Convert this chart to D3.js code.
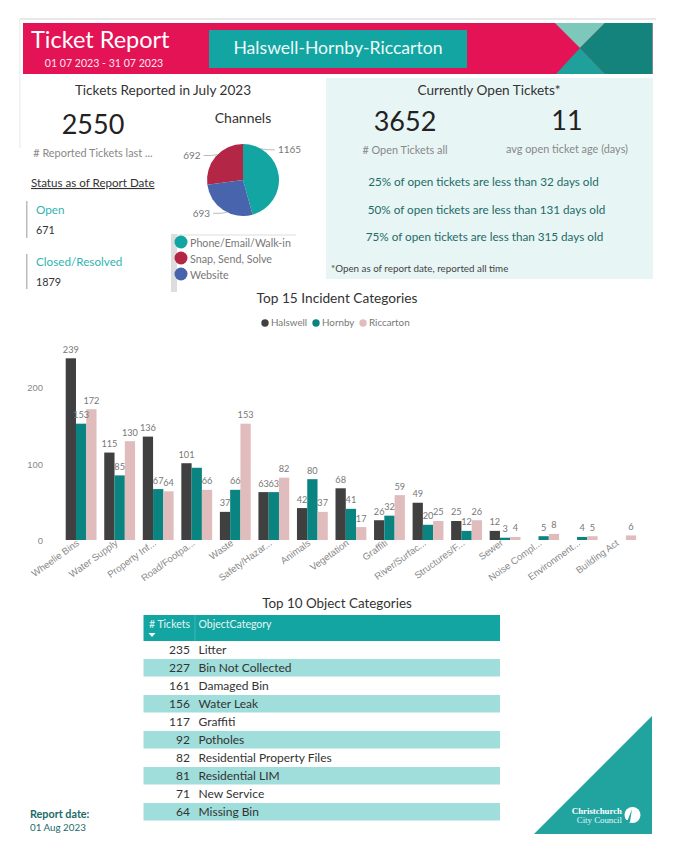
<!DOCTYPE html>
<html>
<head>
<meta charset="utf-8">
<title>Ticket Report</title>
<script src="https://cdn.jsdelivr.net/npm/d3@7"></script>
<style>
	html, body { margin: 0; padding: 0; background: #fff; }
	svg { display: block; font-family: Lato, "Noto Sans", sans-serif; }
</style>
</head>
<body>
<svg id="report" width="675" height="862"></svg>
<script>

var categories = [ "Wheelie Bins", "Water Supply", "Property Inf...", "Road/Footpa...", "Waste", "Safety/Hazar...", "Animals", "Vegetation", "Graffiti", "River/Surfac...", "Structures/F...", "Sewer", "Noise Compl...", "Environment...", "Building Act" ];
var halswell = [ 239, 115, 136, 101, 37, 63, 42, 68, 26, 49, 25, 12, null, null, null ];
var hornby = [ 153, 85, 67, 95, 66, 63, 80, 41, 32, 20, 12, 3, 5, 4, null ];
var riccarton = [ 172, 130, 64, 66, 153, 82, 37, 17, 59, 25, 26, 4, 8, 5, 6 ];
var seriesNames = [ "Halswell", "Hornby", "Riccarton" ];
var seriesColours = [ "#404041", "#0a8480", "#e0bcbd" ];
var valueTicks = [ 0, 100, 200 ];

// the report drops this one label, it collides with its neighbours
var unlabelled = [ "Road/Footpa...|Hornby" ];

var channels = [ "Phone/Email/Walk-in", "Snap, Send, Solve", "Website" ];
var channelValues = [ 1165, 692, 693 ];
var channelColours = [ "#12a5a2", "#b32645", "#4864ad" ];

var objectCategories = [ "Litter", "Bin Not Collected", "Damaged Bin", "Water Leak", "Graffiti", "Potholes", "Residential Property Files", "Residential LIM", "New Service", "Missing Bin" ];
var objectTickets = [ 235, 227, 161, 156, 117, 92, 82, 81, 71, 64 ];

var ageLines = [ "25% of open tickets are less than 32 days old", "50% of open tickets are less than 131 days old", "75% of open tickets are less than 315 days old" ];

var svg = d3.select( "#report" );

function label( parent, x, y, text, size, colour, anchor ) {

	return parent.append( "text" )
		.attr( "x", x )
		.attr( "y", y + 1 )
		.attr( "font-size", size )
		.attr( "fill", colour )
		.attr( "text-anchor", anchor || "middle" )
		.attr( "dominant-baseline", "middle" )
		.text( text );

}

function polygon( points, colour ) {

	svg.append( "polygon" ).attr( "points", points ).attr( "fill", colour );

}

function drawHeader() {

	svg.append( "rect" ).attr( "x", 19 ).attr( "y", 18 ).attr( "width", 637 ).attr( "height", 2 ).attr( "fill", "#e8e8e8" );
	svg.append( "rect" ).attr( "x", 19 ).attr( "y", 18 ).attr( "width", 1.5 ).attr( "height", 130 ).attr( "fill", "#f0f0f0" );

	svg.append( "rect" ).attr( "x", 23 ).attr( "y", 23 ).attr( "width", 629.5 ).attr( "height", 51 ).attr( "fill", "#e31356" );

	polygon( "555,23 605,23 580,48", "#7cc9bb" );
	polygon( "605,23 652.5,23 652.5,74 605,74 580,48", "#14837b" );
	polygon( "556,74 605,74 580,48", "#1fa09b" );

	svg.append( "rect" ).attr( "x", 209 ).attr( "y", 30 ).attr( "width", 258 ).attr( "height", 38 ).attr( "fill", "#12a5a2" );

	label( svg, 31, 41, "Ticket Report", 23.5, "#fff", "start" );
	label( svg, 104, 63, "01 07 2023 - 31 07 2023", 10.6, "#fde6ee" );
	label( svg, 338, 49, "Halswell-Hornby-Riccarton", 17.6, "#eefafa" );

}

function drawReported() {

	label( svg, 163, 91, "Tickets Reported in July 2023", 13.6, "#333" );
	label( svg, 93, 126, "2550", 27, "#222" );
	label( svg, 93, 153, "# Reported Tickets last ...", 10.9, "#888" );

	label( svg, 31, 183, "Status as of Report Date", 11.6, "#333", "start" ).attr( "text-decoration", "underline" );

	svg.append( "rect" ).attr( "x", 26 ).attr( "y", 201 ).attr( "width", 1.5 ).attr( "height", 37 ).attr( "fill", "#bbb" );
	svg.append( "rect" ).attr( "x", 26 ).attr( "y", 254 ).attr( "width", 1.5 ).attr( "height", 35 ).attr( "fill", "#bbb" );

	label( svg, 36, 210, "Open", 11.7, "#2fb5b0", "start" );
	label( svg, 36, 230, "671", 10.8, "#333", "start" );
	label( svg, 36, 262, "Closed/Resolved", 11.7, "#2fb5b0", "start" );
	label( svg, 36, 282, "1879", 10.8, "#333", "start" );

}

function drawChannels() {

	label( svg, 243, 118, "Channels", 14, "#333" );

	var radius = 36;
	var pie = d3.pie()( channelValues );
	var arc = d3.arc().innerRadius( 0 ).outerRadius( radius );

	// where each leader line leaves the pie, in radians clockwise from the top
	var leaderAngles = [ 0.52, 5.5, 3.6 ];

	var g = svg.append( "g" ).attr( "transform", "translate(243,180)" );

	g.selectAll( "path" )
		.data( pie )
	.enter()
		.append( "path" )
		.attr( "d", arc )
		.attr( "fill", function( d, i ) { return channelColours[ i ]; } );

	g.selectAll( "polyline" )
		.data( pie )
	.enter()
		.append( "polyline" )
		.attr( "fill", "none" )
		.attr( "stroke", "#bbb" )
		.attr( "points", function( d, i ) {

			var x = Math.sin( leaderAngles[ i ] ) * radius;
			var y = -Math.cos( leaderAngles[ i ] ) * radius;
			var side = x > 0 ? 1 : -1;

			return [ [ x, y ], [ x + side * 6, y + 1 ], [ x + side * 14, y + 1 ] ].join( " " );

		} );

	g.selectAll( "text" )
		.data( pie )
	.enter()
		.append( "text" )
		.attr( "font-size", 10 )
		.attr( "fill", "#777" )
		.attr( "dominant-baseline", "middle" )
		.attr( "text-anchor", function( d, i ) { return i == 0 ? "start" : "end"; } )
		.attr( "x", function( d, i ) {

			var x = Math.sin( leaderAngles[ i ] ) * radius;

			return x + ( x > 0 ? 17 : -17 );

		} )
		.attr( "y", function( d, i ) {

			return -Math.cos( leaderAngles[ i ] ) * radius + 2;

		} )
		.text( function( d ) { return d.value; } );

	svg.append( "rect" ).attr( "x", 171 ).attr( "y", 234 ).attr( "width", 125 ).attr( "height", 2 ).attr( "fill", "#eee" );
	svg.append( "rect" ).attr( "x", 171 ).attr( "y", 234 ).attr( "width", 6 ).attr( "height", 58 ).attr( "fill", "#ddd" );

	var legendY = d3.scalePoint().domain( channels ).range( [ 243, 275 ] );

	channels.forEach( function( name, i ) {

		svg.append( "circle" ).attr( "cx", 181 ).attr( "cy", legendY( name ) - 1 ).attr( "r", 6.5 ).attr( "fill", channelColours[ i ] );
		label( svg, 190, legendY( name ) + 0.5, name, 10.7, "#777", "start" );

	} );

}

function drawOpenPanel() {

	svg.append( "rect" ).attr( "x", 326 ).attr( "y", 78 ).attr( "width", 327 ).attr( "height", 201 ).attr( "fill", "#e8f5f5" );

	label( svg, 489, 91, "Currently Open Tickets*", 13.6, "#333" );
	label( svg, 405, 123, "3652", 27, "#222" );
	label( svg, 567, 122, "11", 27, "#222" );
	label( svg, 405, 150, "# Open Tickets all", 10.9, "#888" );
	label( svg, 567, 149, "avg open ticket age (days)", 10.9, "#888" );

	var lineY = [ 182, 210, 237 ];
	var lineX = [ 483.5, 486.5, 484.5 ];

	ageLines.forEach( function( text, i ) {

		label( svg, lineX[ i ], lineY[ i ], text, 11.7, "#1c6b68" );

	} );

	label( svg, 331, 269, "*Open as of report date, reported all time", 9.8, "#444", "start" );

}

function drawIncidents() {

	label( svg, 337, 298.5, "Top 15 Incident Categories", 13.7, "#333" );

	var legendX = [ 265, 316, 363 ];

	seriesNames.forEach( function( name, i ) {

		svg.append( "circle" ).attr( "cx", legendX[ i ] ).attr( "cy", 323 ).attr( "r", 3.7 ).attr( "fill", seriesColours[ i ] );
		label( svg, legendX[ i ] + 6, 322.5, name, 9.8, "#777", "start" );

	} );

	var x = d3.scaleBand().domain( categories ).range( [ 61.85, 640 ] ).paddingInner( 0.2 ).paddingOuter( 0.1 );
	var inner = d3.scaleBand().domain( seriesNames ).range( [ 0, x.bandwidth() ] );
	var y = d3.scaleLinear().domain( [ 0, 239 ] ).range( [ 540, 358.3 ] );

	var yAxis = svg.append( "g" )
		.attr( "transform", "translate(46,0)" )
		.call( d3.axisLeft( y ).tickValues( valueTicks ).tickSize( 0 ) );

	yAxis.select( ".domain" ).remove();
	yAxis.selectAll( "text" ).attr( "font-size", 9.5 ).attr( "fill", "#888" );

	var xAxis = svg.append( "g" )
		.attr( "transform", "translate(0,540)" )
		.call( d3.axisBottom( x ).tickSize( 0 ) );

	xAxis.select( ".domain" ).remove();
	xAxis.selectAll( "text" )
		.attr( "font-size", 9.6 )
		.attr( "fill", "#888" )
		.attr( "text-anchor", "end" )
		.attr( "dy", 0 )
		.attr( "transform", "translate(-3,2) rotate(-36)" );

	var allSeries = [ halswell, hornby, riccarton ];

	function pointsOf( s ) {

		return allSeries[ s ].map( function( v, i ) {

			return { category: categories[ i ], value: v, name: seriesNames[ s ] };

		} ).filter( function( d ) { return d.value !== null; } );

	}

	// bars first, then every label on top of them
	allSeries.forEach( function( values, s ) {

		svg.append( "g" ).selectAll( "rect" )
			.data( pointsOf( s ) )
		.enter()
			.append( "rect" )
			.attr( "x", function( d ) { return x( d.category ) + inner( d.name ); } )
			.attr( "y", function( d ) { return y( d.value ); } )
			.attr( "width", inner.bandwidth() )
			.attr( "height", function( d ) { return y( 0 ) - y( d.value ); } )
			.attr( "fill", seriesColours[ s ] );

	} );

	allSeries.forEach( function( values, s ) {

		svg.append( "g" ).selectAll( "text" )
			.data( pointsOf( s ).filter( function( d ) { return unlabelled.indexOf( d.category + "|" + d.name ) < 0; } ) )
		.enter()
			.append( "text" )
			.attr( "x", function( d ) { return x( d.category ) + inner( d.name ) + inner.bandwidth() / 2; } )
			.attr( "y", function( d ) { return y( d.value ) - 5.5; } )
			.attr( "font-size", 9.2 )
			.attr( "fill", "#777" )
			.attr( "text-anchor", "middle" )
			.text( function( d ) { return d.value; } );

	} );

}

function drawObjectTable() {

	label( svg, 337, 603.5, "Top 10 Object Categories", 13.4, "#333" );

	var left = 143.5;
	var right = 500;
	var rowY = d3.scaleBand().domain( objectCategories ).range( [ 641, 821 ] );

	svg.append( "rect" ).attr( "x", left ).attr( "y", 615 ).attr( "width", right - left ).attr( "height", 26 ).attr( "fill", "#12a5a2" );
	svg.append( "rect" ).attr( "x", 194.5 ).attr( "y", 615 ).attr( "width", 1 ).attr( "height", 26 ).attr( "fill", "#3fb8b5" );

	label( svg, 190, 624, "# Tickets", 10.5, "#e6f7f7", "end" );
	label( svg, 198.5, 624, "ObjectCategory", 10.5, "#e6f7f7", "start" );
	polygon( "148.5,633 155.5,633 152,637", "#fff" );

	var rows = svg.selectAll( "g.row" )
		.data( objectCategories )
	.enter()
		.append( "g" )
		.attr( "class", "row" );

	rows.filter( function( d, i ) { return i % 2 == 1; } )
		.append( "rect" )
		.attr( "x", left )
		.attr( "y", function( d ) { return rowY( d ); } )
		.attr( "width", right - left )
		.attr( "height", rowY.bandwidth() - 0.5 )
		.attr( "fill", "#a0dedb" );

	rows.each( function( d, i ) {

		var middle = rowY( d ) + rowY.bandwidth() / 2;

		label( d3.select( this ), 190, middle, objectTickets[ i ], 12, "#333", "end" );
		label( d3.select( this ), 198.5, middle, d, 12, "#333", "start" );

	} );

}

function drawFooter() {

	label( svg, 30, 814, "Report date:", 10.8, "#1b6b68", "start" ).attr( "font-weight", "bold" );
	label( svg, 30, 828, "01 Aug 2023", 9.8, "#1b6b68", "start" );

	polygon( "652,716 652,834 534,834", "#21a3a0" );

	label( svg, 622, 811, "Christchurch", 8.8, "#fff", "end" )
		.attr( "font-family", "Liberation Serif" )
		.attr( "font-weight", "bold" );
	label( svg, 622, 820, "City Council", 8.8, "#e6f7f7", "end" )
		.attr( "font-family", "Liberation Serif" );

	svg.append( "circle" ).attr( "cx", 632.5 ).attr( "cy", 815 ).attr( "r", 8 ).attr( "fill", "#fff" );
	polygon( "632,809 630,822 627,822", "#21a3a0" );
	svg.append( "rect" ).attr( "x", 624 ).attr( "y", 820 ).attr( "width", 6 ).attr( "height", 1.5 ).attr( "fill", "#21a3a0" );

}

drawHeader();
drawReported();
drawChannels();
drawOpenPanel();
drawIncidents();
drawObjectTable();
drawFooter();

</script>
</body>
</html>
